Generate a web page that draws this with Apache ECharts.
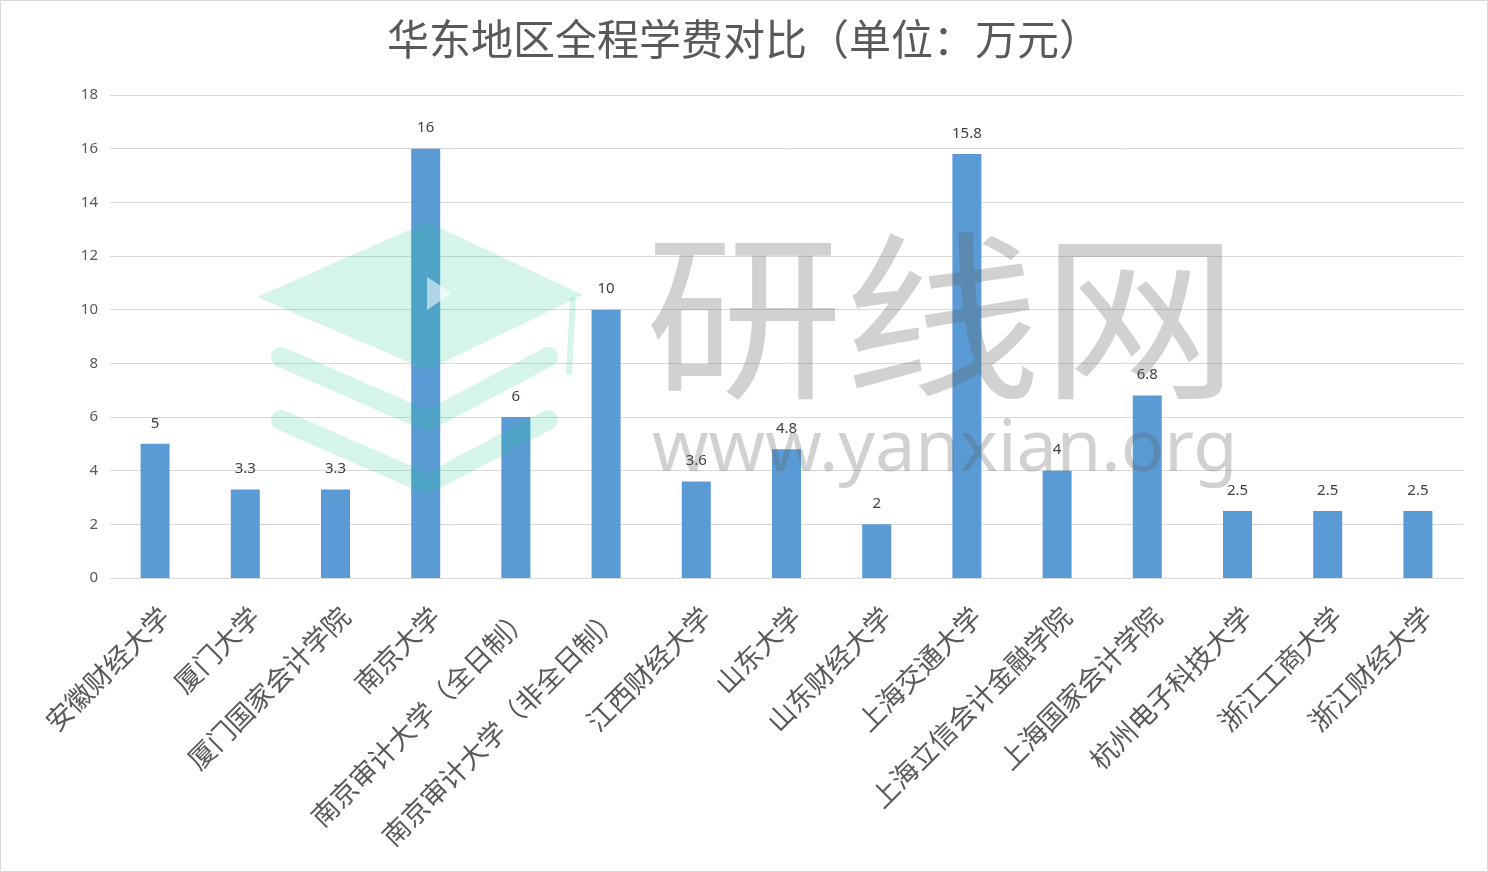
<!DOCTYPE html>
<html><head><meta charset="utf-8">
<script src="https://cdn.jsdelivr.net/npm/echarts@6/dist/echarts.min.js"></script>
<style>html,body{margin:0;padding:0;background:#fff;}#c{width:1488px;height:872px;}</style>
</head><body><div id="c"></div>
<script>
var categories = ['安徽财经大学','厦门大学','厦门国家会计学院','南京大学','南京审计大学（全日制）','南京审计大学（非全日制）','江西财经大学','山东大学','山东财经大学','上海交通大学','上海立信会计金融学院','上海国家会计学院','杭州电子科技大学','浙江工商大学','浙江财经大学'];
var fees = [5, 3.3, 3.3, 16, 6, 10, 3.6, 4.8, 2, 15.8, 4, 6.8, 2.5, 2.5, 2.5];
var yTicks = [0, 2, 4, 6, 8, 10, 12, 14, 16, 18];

var chart = echarts.init(document.getElementById('c'));
var wm = 'rgba(90,90,90,0.28)';
var logo = 'rgba(22,200,139,0.18)';
chart.setOption({
  animation: false,
  backgroundColor: '#fff',
  title: {
    text: '华东地区全程学费对比（单位：万元）',
    left: 'center', top: 13,
    textStyle: { fontFamily: 'Noto Sans CJK SC', fontSize: 42, fontWeight: 'normal', color: '#595959' }
  },
  grid: { left: 110, right: 25, top: 95, bottom: 294 },
  xAxis: {
    type: 'category', data: categories,
    axisLine: { lineStyle: { color: '#d9d9d9', width: 1 } },
    axisTick: { show: false },
    axisLabel: { rotate: 45, interval: 0, margin: 24, verticalAlign: 'top', fontFamily: 'Noto Sans CJK SC', fontSize: 27, color: '#595959' }
  },
  yAxis: {
    type: 'value', min: yTicks[0], max: yTicks[yTicks.length - 1], interval: 2,
    axisLine: { show: false }, axisTick: { show: false },
    splitLine: { lineStyle: { color: '#d9d9d9', width: 1 } },
    axisLabel: { margin: 12, fontFamily: 'Noto Sans', fontSize: 15, color: '#595959' }
  },
  series: [{
    type: 'bar', data: fees, barWidth: 29,
    itemStyle: { color: '#5b9bd5' },
    label: { show: true, position: 'top', distance: 13, fontFamily: 'Noto Sans', fontSize: 15, color: '#404040' }
  }],
  graphic: [
    { type: 'rect', shape: { x: 0.5, y: 0.5, width: 1487, height: 871 }, style: { fill: 'none', stroke: '#d9d9d9', lineWidth: 1 }, z: 0 },
    { type: 'polygon', z: 100, shape: { points: [[257,297],[427,222],[583,295],[427,370]] }, style: { fill: logo } },
    { type: 'polygon', z: 101, shape: { points: [[427,277],[452,293],[427,310]] }, style: { fill: 'rgba(255,255,255,0.55)' } },
    { type: 'line', z: 100, shape: { x1: 573, y1: 300, x2: 569, y2: 372 }, style: { stroke: logo, lineWidth: 6, lineCap: 'round' } },
    { type: 'polyline', z: 100, shape: { points: [[281,357],[427,421],[548,357]] }, style: { stroke: logo, lineWidth: 20, lineCap: 'round', lineJoin: 'round', fill: null } },
    { type: 'polyline', z: 100, shape: { points: [[281,420],[427,484],[548,420]] }, style: { stroke: logo, lineWidth: 20, lineCap: 'round', lineJoin: 'round', fill: null } },
    { type: 'text', z: 100, left: 645, top: 226, scaleX: 1.1, style: { text: '研线网', font: '180px "Noto Sans CJK SC"', fill: wm } },
    { type: 'text', z: 100, left: 652, top: 414, style: { text: 'www.yanxian.org', font: '72px "Noto Sans"', fill: wm } }
  ]
});
</script></body></html>
